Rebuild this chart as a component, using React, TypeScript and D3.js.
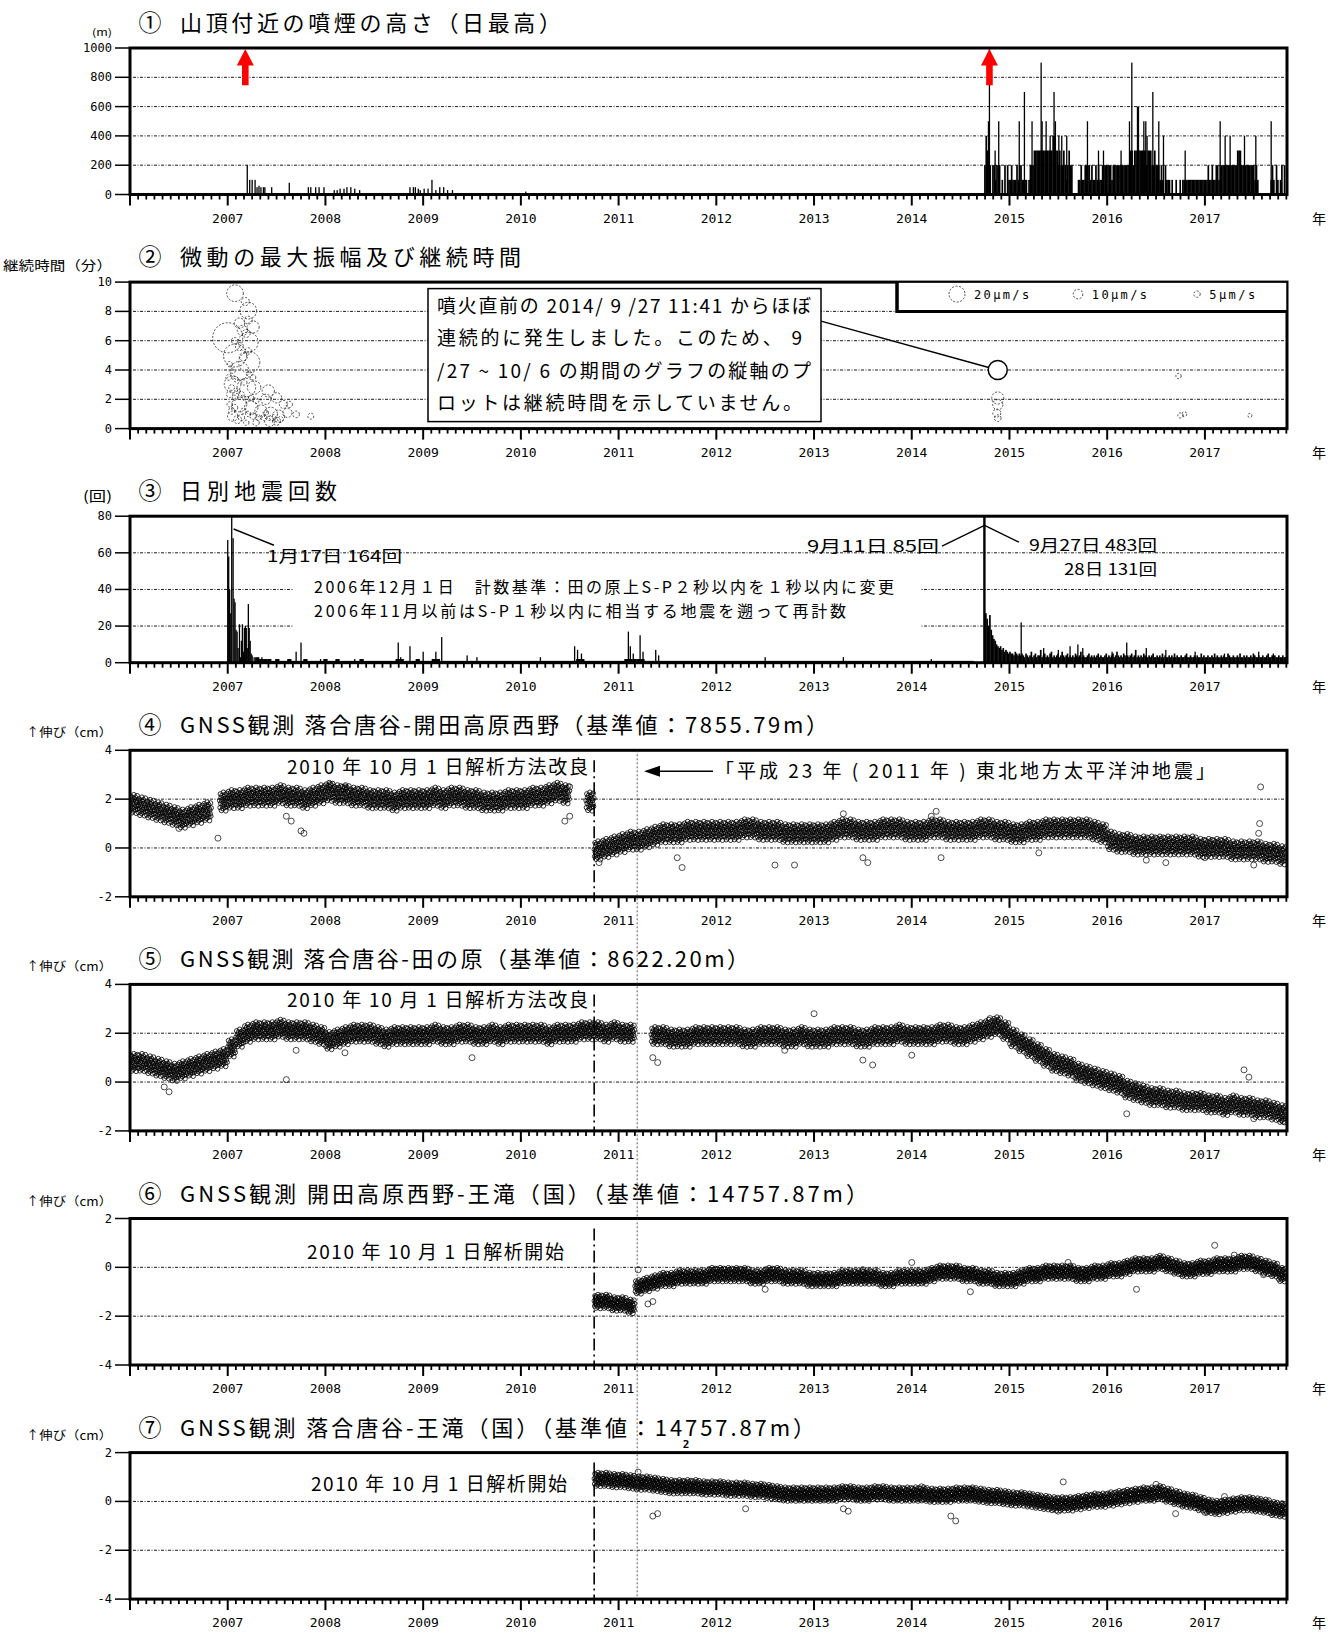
import React, { useRef, useEffect } from "react";
import * as d3 from "d3";

// ---- page layout ----
const WIDTH = 1342;
const HEIGHT = 1636;
const PLOT_LEFT = 130;
const PLOT_RIGHT = 1287;
const FIRST_TOP = 48;
const PANEL_STEP = 234.1;
const PANEL_HEIGHT = 146.5;
const FONT_JP = "'Noto Sans CJK JP', 'Noto Sans', sans-serif";
const FONT_NUM = "'DejaVu Sans Mono', 'Liberation Mono', monospace";
const DAY = 1 / 365.25;

// ---- shared time axis (decimal years) ----
const xStart = 2006;
const xEnd = 2017.84;
const yearLabels = [2007, 2008, 2009, 2010, 2011, 2012, 2013, 2014, 2015, 2016, 2017];
const analysisChange = 2010.75; // 2010-10-01
const tohokuQuake = 2011.19; // 2011-03-11

const panelTitles = [
  { mark: "①", text: "山頂付近の噴煙の高さ（日最高）", end: 561 },
  { mark: "②", text: "微動の最大振幅及び継続時間", end: 521 },
  { mark: "③", text: "日別地震回数", end: 337 },
  { mark: "④", text: "GNSS観測  落合唐谷-開田高原西野（基準値：7855.79m）", end: 828 },
  { mark: "⑤", text: "GNSS観測  落合唐谷-田の原（基準値：8622.20m）", end: 749 },
  { mark: "⑥", text: "GNSS観測  開田高原西野-王滝（国）（基準値：14757.87m）", end: 868 },
  { mark: "⑦", text: "GNSS観測  落合唐谷-王滝（国）（基準値：14757.87m）", end: 815 },
];

const panelAxes = [
  { domain: [0, 1000], ticks: [0, 200, 400, 600, 800, 1000], grid: [200, 400, 600, 800] },
  { domain: [0, 10], ticks: [0, 2, 4, 6, 8, 10], grid: [2, 4, 6, 8] },
  { domain: [0, 80], ticks: [0, 20, 40, 60, 80], grid: [20, 40, 60] },
  { domain: [-2, 4], ticks: [-2, 0, 2, 4], grid: [0, 2] },
  { domain: [-2, 4], ticks: [-2, 0, 2, 4], grid: [0, 2] },
  { domain: [-4, 2], ticks: [-4, -2, 0, 2], grid: [-2, 0] },
  { domain: [-4, 2], ticks: [-4, -2, 0, 2], grid: [-2, 0] },
];

const unitLabels = [
  { text: "(m)", x: 92, len: 20, dy: -12, size: 10 },
  { text: "継続時間（分）", x: 3, len: 109, dy: -12, size: 13 },
  { text: "(回)", x: 83, len: 29, dy: -15, size: 14 },
  { text: "↑伸び（cm）", x: 26, len: 86, dy: -13, size: 12 },
  { text: "↑伸び（cm）", x: 26, len: 86, dy: -13, size: 12 },
  { text: "↑伸び（cm）", x: 26, len: 86, dy: -13, size: 12 },
  { text: "↑伸び（cm）", x: 26, len: 86, dy: -13, size: 12 },
];

// ---- ① plume height (m) ----
const plumeEarly: [number, number][] = [
  [2007.2, 200], [2007.225, 100], [2007.25, 100], [2007.28, 100], [2007.3, 50], [2007.32, 60],
  [2007.34, 50], [2007.365, 50], [2007.38, 50], [2007.45, 50], [2007.63, 80],
  [2007.825, 50], [2007.85, 50], [2007.9, 50], [2007.935, 50], [2007.985, 50],
  [2008.09, 30], [2008.12, 30], [2008.15, 40], [2008.19, 40], [2008.22, 50], [2008.26, 50],
  [2008.3, 40], [2008.35, 30], [2008.865, 50], [2008.9, 50], [2008.92, 50], [2008.95, 40],
  [2008.97, 30], [2009.01, 40], [2009.05, 40], [2009.09, 100], [2009.13, 30], [2009.17, 50],
  [2009.21, 50], [2009.25, 30], [2009.3, 30], [2010.05, 20], [2011.0, 10], [2011.55, 10], [2013.7, 10],
];
const plumeStart = 2014.74;
const plumeStepDays = 5;
const plumeDense = [
  200, 400, 300, 200, 200, 0, 200, 200, 100, 200, 200, 200, 0, 100, 0, 200, 0, 200,
  100, 100, 200, 100, 100, 100, 200, 100, 200, 200, 100, 100, 100, 100, 0, 100, 200, 200, 200,
  300, 300, 300, 300, 300, 300, 300, 300, 300, 300, 300, 300, 300, 300, 400, 400, 300,
  300, 200, 300, 200, 200, 300, 200, 100, 200, 300, 200, 200, 0, 0, 0, 0,
  100, 100, 200, 100, 100, 200, 200, 200, 200,
  100, 200, 100, 100, 200, 100, 200, 100, 100, 200, 200, 200, 200, 200, 200, 200, 100,
  200, 200, 200, 200, 200, 200, 200, 200, 200, 200, 200, 200, 200,
  300, 300, 200, 300, 300, 200, 300, 300, 300, 300, 300, 300, 200, 300, 300, 300, 200,
  200, 300, 200, 200, 200, 100, 200, 100, 0, 200, 100, 100, 100, 0, 100, 0, 0, 100, 0, 0, 100, 0,
  100, 100, 100, 100, 100, 100, 100, 100, 100, 100, 100, 100, 100, 100, 100, 100, 100,
  100, 100, 200, 100, 100, 200, 100, 100, 200, 200, 100, 200, 200,
  200, 200, 200, 200, 200, 200, 200, 200, 200, 200, 200, 300, 300, 300, 200, 200, 200, 200, 200, 200, 200, 200, 200,
  200, 100, 200, 100, 0, 0, 0, 0, 0, 0, 0, 0, 0,
  100, 200, 100, 0, 200, 100, 0, 100, 200, 0, 200, 0,
];
const plumeSpikes: [number, number][] = [
  [2014.785, 500], [2014.795, 1000], [2014.853, 300], [2014.89, 500], [2015.1, 500], [2015.153, 700],
  [2015.231, 500], [2015.324, 900], [2015.334, 500], [2015.375, 500], [2015.416, 400], [2015.456, 700],
  [2015.47, 500], [2015.505, 400], [2015.535, 400], [2015.586, 400], [2015.798, 500], [2015.911, 300],
  [2015.962, 300], [2016.142, 300], [2016.228, 500], [2016.252, 900], [2016.31, 600], [2016.32, 600],
  [2016.375, 500], [2016.395, 500], [2016.408, 400], [2016.467, 700], [2016.528, 500], [2016.576, 400],
  [2016.798, 300], [2017.156, 500], [2017.207, 400], [2017.258, 400], [2017.405, 400], [2017.521, 400],
  [2017.678, 500],
];
const eruptionArrows = [2007.18, 2014.795];

// ---- ② tremor: [year, duration (min), max amplitude (µm/s)] ----
const tremorBubbles: [number, number, number][] = [
  [2007.075, 9.24, 21], [2007.21, 8.05, 21], [2007.18, 8.67, 7.5], [2007.0, 6.2, 42], [2007.075, 4.99, 31],
  [2007.21, 5.9, 26], [2007.22, 4.53, 28], [2007.12, 3.95, 24], [2007.26, 6.94, 14], [2007.15, 6.7, 11],
  [2007.05, 3.03, 21], [2007.19, 2.8, 24], [2007.27, 2.8, 16], [2007.415, 2.57, 14], [2007.5, 2.1, 11],
  [2007.57, 1.65, 7.5], [2007.12, 1.65, 18], [2007.24, 1.43, 16], [2007.34, 1.2, 14], [2007.44, 1.0, 16],
  [2007.52, 0.85, 14], [2007.61, 1.08, 9.5], [2007.7, 0.97, 5.4], [2007.85, 0.85, 4.4], [2007.05, 0.85, 11],
  [2007.1, 0.62, 7.5], [2007.43, 0.5, 11], [2007.5, 0.5, 7.5], [2007.02, 4.4, 3.3], [2007.05, 3.95, 3.3],
  [2007.01, 3.5, 4], [2007.08, 3.38, 3.3], [2007.04, 2.8, 4], [2007.1, 2.57, 3.3], [2007.02, 2.34, 5],
  [2007.075, 2.1, 3.3], [2007.14, 2.34, 4], [2007.17, 3.15, 3.3], [2007.22, 3.72, 4], [2007.26, 3.5, 3.3],
  [2007.19, 2.0, 4], [2007.24, 2.1, 3.3], [2007.29, 1.9, 4], [2007.02, 1.65, 3.3], [2007.07, 1.43, 5],
  [2007.16, 1.2, 4], [2007.21, 1.0, 3.3], [2007.26, 0.85, 5], [2007.31, 0.75, 4], [2007.37, 0.75, 5],
  [2007.39, 1.08, 3.3], [2007.46, 0.75, 5], [2007.54, 0.62, 4], [2007.14, 0.75, 5], [2007.19, 0.4, 3.3],
  [2007.29, 0.4, 5], [2007.16, 4.9, 7.5], [2007.21, 5.3, 5], [2007.12, 5.6, 7.5], [2007.07, 6.0, 5],
  [2007.19, 6.5, 7.5], [2007.12, 7.2, 11], [2007.21, 7.4, 7.5], [2007.39, 2.0, 11], [2007.63, 1.65, 5],
  [2007.04, 1.2, 5],
  [2014.88, 2.09, 14], [2014.88, 1.63, 11], [2014.87, 1.06, 7.5], [2014.88, 0.71, 5.4],
  [2016.73, 3.59, 3.3], [2016.75, 0.9, 3.3], [2016.79, 0.99, 2.5], [2017.46, 0.9, 1.5],
];
const tremorCallout: [number, number] = [2014.88, 4.0];
const tremorLegend = [20, 10, 5];
const tremorNote = [
  "噴火直前の 2014/ 9 /27 11:41 からほぼ",
  "連続的に発生しました。このため、 9",
  "/27 ~ 10/ 6 の期間のグラフの縦軸のプ",
  "ロットは継続時間を示していません。",
];

// ---- ③ daily earthquake counts ----
const quakeEvents: [number, number][] = [
  [2007.0, 67], [2007.01, 58], [2007.02, 40], [2007.031, 27], [2007.055, 68], [2007.065, 35],
  [2007.075, 33], [2007.085, 18], [2007.096, 17], [2007.106, 8], [2007.12, 21], [2007.13, 3],
  [2007.14, 12], [2007.15, 21], [2007.16, 6], [2007.17, 19], [2007.18, 20], [2007.19, 19],
  [2007.2, 8], [2007.211, 32], [2007.22, 19], [2007.23, 12], [2007.24, 5], [2007.25, 4], [2007.27, 3],
  [2007.35, 3], [2007.7, 6], [2007.75, 11], [2007.95, 2], [2008.3, 2], [2008.745, 11], [2008.77, 3],
  [2008.865, 9], [2009.0, 6], [2009.13, 6], [2009.19, 14], [2009.45, 4], [2009.55, 3], [2010.2, 3],
  [2010.55, 9], [2010.58, 7], [2010.62, 5], [2011.1, 17], [2011.12, 9], [2011.15, 5], [2011.22, 15],
  [2011.25, 6], [2011.38, 7], [2011.41, 4], [2012.5, 3], [2013.3, 3], [2014.2, 2],
  [2015.12, 22], [2015.35, 8], [2015.5, 7], [2015.62, 9], [2015.7, 10], [2015.75, 8], [2016.05, 6],
  [2016.2, 11], [2016.4, 8], [2016.6, 7], [2016.9, 6], [2017.2, 5], [2017.55, 6], [2017.7, 5],
];
const quakeOffScale: [number, number][] = [[2007.041, 164], [2014.738, 85], [2014.745, 483], [2014.748, 131]];
const quakeBgStart = 2007.28;
const quakeBgStepDays = 15;
const quakeBg = [
  3, 2, 2, 2, 1, 2, 1, 1, 2, 1, 1, 1, 2, 1, 1, 1, 1, 2,
  1, 1, 2, 1, 1, 1, 1, 1, 2, 1, 1, 1, 1, 1, 1, 1, 1, 2, 2, 1, 1, 1, 2, 1,
  1, 1, 2, 2, 1, 1, 1, 1, 1, 1, 1, 1, 1, 1, 1, 1, 1, 1, 1, 1, 1, 1, 1, 1,
  1, 1, 1, 1, 1, 1, 1, 1, 1, 1, 1, 1, 1, 1, 2, 2, 1, 1, 1, 1, 1, 1, 1, 1,
  1, 1, 2, 2, 2, 2, 2, 1, 1, 1, 1, 1, 1, 1, 1, 1, 1, 1, 1, 1, 1, 1, 1, 1,
  1, 1, 1, 1, 1, 1, 1, 1, 1, 1, 1, 1, 1, 1, 1, 1, 1, 1, 1, 1, 1, 1, 1, 1,
  1, 1, 1, 1, 1, 1, 1, 1, 1, 1, 1, 1, 1, 1, 1, 1, 1, 1, 1, 1, 1, 1, 1, 1,
  1, 1, 1, 1, 1, 1, 1, 1, 1, 1, 1, 1, 1, 1, 1, 1, 1,
];
const quakeDenseStart = 2014.75;
const quakeDenseStepDays = 5;
const quakeDense = [
  27, 24, 20, 26, 18, 15, 13, 12, 10, 9, 8, 9, 7, 8, 6, 7, 6, 5, 6, 5, 5, 4, 6, 5, 4, 5, 4, 5,
  4, 3, 5, 4, 3, 4, 6, 3, 4, 5, 3, 4, 4, 7, 3, 4, 5, 3, 4, 3, 5, 6, 3, 4, 3, 4, 5, 3, 4, 6, 4, 3, 4, 5,
  3, 4, 3, 4, 3, 5, 4, 3, 4, 6, 3, 4, 3, 3, 4, 5, 3, 4, 3, 4, 3, 4, 5, 3, 4, 3, 3, 4, 5, 3,
  4, 3, 4, 5, 3, 4, 6, 4, 3, 4, 3, 5, 4, 3, 4, 3, 4, 5, 3, 4, 7, 3, 4, 3, 4, 3, 5, 4, 3, 3, 4, 3, 4, 5,
  3, 3, 4, 3, 4, 3, 5, 3, 4, 3, 3, 4, 3, 4, 3, 5, 3, 4, 3, 3, 4, 3, 3, 4, 5, 3, 3, 4, 3, 3, 4, 3, 4, 3,
  3, 5, 3, 4, 3,
  3, 4, 3, 3, 4, 3, 5, 3, 4, 3, 3, 4, 3, 4, 3, 3, 5, 4, 3, 3, 4, 3, 3, 4, 3, 5, 3, 3, 4, 3, 4, 3, 3, 4,
  3, 5, 4, 3, 3, 4, 3, 3, 4, 3, 3, 4, 5, 3, 3, 4, 3, 4, 3, 3, 4, 3, 3, 4, 3, 3, 4,
];
const quakeNotes = [
  "2006年12月１日　計数基準：田の原上S-P２秒以内を１秒以内に変更",
  "2006年11月以前はS-P１秒以内に相当する地震を遡って再計数",
];

// ---- ④-⑦ GNSS baseline change (cm), monthly levels ----
const gnss4Start = 2006;
const gnss4 = [
  1.8, 1.7, 1.6, 1.5, 1.4, 1.3, 1.2, 1.3, 1.4, 1.5, null, 1.9,
  2.0, 2.0, 2.1, 2.1, 2.1, 2.1, 2.2, 2.1, 2.1, 2.0, 2.1, 2.2,
  2.3, 2.2, 2.2, 2.1, 2.1, 2.0, 2.0, 2.0, 1.9, 2.0, 2.0, 2.0,
  2.0, 2.1, 2.0, 2.1, 2.1, 2.0, 2.0, 1.9, 1.9, 1.9, 2.0, 2.0,
  2.0, 2.1, 2.1, 2.2, 2.3, 2.2, null, null, 1.9, -0.1, 0.0, 0.1,
  0.2, 0.3, 0.3, 0.4, 0.5, 0.6, 0.6, 0.6, 0.7, 0.7, 0.7, 0.7,
  0.7, 0.7, 0.7, 0.8, 0.8, 0.7, 0.7, 0.7, 0.6, 0.6, 0.6, 0.6,
  0.6, 0.6, 0.7, 0.8, 0.8, 0.7, 0.7, 0.7, 0.8, 0.8, 0.8, 0.7,
  0.7, 0.7, 0.8, 0.8, 0.7, 0.7, 0.7, 0.7, 0.8, 0.8, 0.7, 0.7,
  0.6, 0.6, 0.7, 0.7, 0.8, 0.8, 0.8, 0.8, 0.8, 0.8, 0.7, 0.6,
  0.3, 0.2, 0.2, 0.1, 0.1, 0.1, 0.1, 0.1, 0.1, 0.1, 0.1, 0.0,
  0.0, 0.0, 0.0, -0.1, -0.1, -0.1, -0.1, -0.2, -0.2, -0.3,
];
const gnss5Start = 2006;
const gnss5 = [
  0.8, 0.8, 0.7, 0.6, 0.5, 0.4, 0.5, 0.6, 0.7, 0.8, 0.9, 1.0,
  1.4, 1.8, 2.0, 2.1, 2.1, 2.1, 2.2, 2.1, 2.1, 2.1, 2.0, 1.9,
  1.7, 1.8, 1.9, 2.0, 2.0, 2.0, 1.9, 1.8, 1.9, 1.9, 1.9, 1.9,
  1.9, 2.0, 1.9, 1.9, 2.0, 2.0, 1.9, 1.9, 2.0, 1.9, 2.0, 2.0,
  2.0, 2.0, 2.0, 1.9, 2.0, 2.0, 2.0, 2.1, 2.1, 2.1, 2.0, 2.1,
  2.0, 2.0, null, null, 1.9, 1.9, 1.8, 1.8, 1.8, 1.9, 1.9, 1.9,
  1.9, 1.9, 1.9, 1.8, 1.8, 1.9, 1.9, 1.9, 1.8, 1.8, 1.9, 1.8,
  1.8, 1.8, 1.9, 1.9, 1.9, 1.8, 1.8, 1.9, 1.9, 1.9, 2.0, 1.9,
  1.9, 1.9, 1.9, 2.0, 2.0, 1.9, 1.9, 2.0, 2.1, 2.2, 2.3, 2.1,
  1.8, 1.6, 1.4, 1.2, 1.0, 0.8, 0.7, 0.6, 0.4, 0.3, 0.2, 0.1,
  0.0, -0.1, -0.3, -0.4, -0.5, -0.6, -0.6, -0.7, -0.7, -0.8, -0.8, -0.8,
  -0.9, -0.9, -1.0, -0.9, -1.0, -1.0, -1.1, -1.1, -1.2, -1.3,
];
const gnss6Start = 2010.75;
const gnss6 = [
  -1.4, -1.4, -1.5,
  -1.5, -1.6, -0.8, -0.7, -0.6, -0.5, -0.5, -0.4, -0.4, -0.4, -0.4, -0.3,
  -0.3, -0.3, -0.3, -0.3, -0.4, -0.4, -0.3, -0.3, -0.4, -0.4, -0.4, -0.5,
  -0.5, -0.5, -0.5, -0.4, -0.4, -0.4, -0.4, -0.4, -0.5, -0.5, -0.4, -0.4,
  -0.4, -0.4, -0.3, -0.2, -0.2, -0.2, -0.3, -0.3, -0.4, -0.4, -0.5, -0.5,
  -0.5, -0.4, -0.3, -0.3, -0.2, -0.2, -0.2, -0.2, -0.3, -0.3, -0.2, -0.2,
  -0.1, -0.1, 0.0, 0.1, 0.1, 0.1, 0.2, 0.1, 0.0, -0.1, -0.1, 0.0,
  0.0, 0.1, 0.1, 0.1, 0.2, 0.2, 0.1, 0.0, -0.1, -0.3,
];
const gnss7Start = 2010.75;
const gnss7 = [
  0.9, 0.9, 0.85,
  0.85, 0.8, 0.75, 0.75, 0.7, 0.65, 0.6, 0.6, 0.6, 0.6, 0.55, 0.55,
  0.55, 0.5, 0.5, 0.5, 0.45, 0.45, 0.4, 0.35, 0.3, 0.3, 0.3, 0.3,
  0.3, 0.3, 0.3, 0.35, 0.35, 0.3, 0.3, 0.35, 0.35, 0.3, 0.3, 0.3,
  0.3, 0.3, 0.25, 0.25, 0.25, 0.3, 0.3, 0.3, 0.25, 0.2, 0.2, 0.15,
  0.1, 0.1, 0.05, 0.0, -0.05, -0.1, -0.1, -0.1, -0.05, 0.0, 0.05, 0.05,
  0.1, 0.15, 0.2, 0.25, 0.3, 0.3, 0.35, 0.25, 0.15, 0.05, 0.0, -0.1,
  -0.2, -0.25, -0.2, -0.15, -0.1, -0.1, -0.15, -0.2, -0.3, -0.35,
];
const gnss4Outliers: [number, number][] = [
  [2006.5, 0.8], [2006.9, 0.4], [2007.6, 1.3], [2007.65, 1.1], [2007.75, 0.7], [2007.78, 0.6],
  [2008.05, 2.6], [2008.2, 2.5], [2010.45, 1.1], [2010.5, 1.3], [2010.5, 2.5], [2010.8, -0.6],
  [2011.6, -0.4], [2011.65, -0.8], [2012.6, -0.7], [2012.8, -0.7], [2013.3, 1.4], [2013.5, -0.4],
  [2013.55, -0.6], [2014.2, 1.3], [2014.25, 1.5], [2014.3, -0.4], [2015.3, -0.2], [2016.4, -0.5],
  [2016.6, -0.6], [2017.0, -0.4], [2017.5, -0.7], [2017.55, 0.6], [2017.56, 1.0], [2017.57, 2.5],
];
const gnss5Outliers: [number, number][] = [
  [2006.35, -0.2], [2006.4, -0.4], [2007.6, 0.1], [2007.7, 1.3], [2008.2, 1.2], [2009.5, 1.0],
  [2011.35, 1.0], [2011.4, 0.8], [2012.7, 1.3], [2013.0, 2.8], [2013.5, 0.9], [2013.6, 0.7],
  [2014.0, 1.1], [2014.8, 2.6], [2016.2, -1.3], [2017.4, 0.5], [2017.45, 0.2], [2017.5, -1.5],
  [2017.8, -1.6],
];
const gnss6Outliers: [number, number][] = [
  [2011.2, -0.1], [2011.3, -1.5], [2011.35, -1.4], [2012.5, -0.9], [2013.5, -0.1], [2014.0, 0.2],
  [2014.6, -1.0], [2015.6, 0.2], [2016.3, -0.9], [2016.6, 0.3], [2017.1, 0.9], [2017.3, 0.5],
  [2017.6, -0.3],
];
const gnss7Outliers: [number, number][] = [
  [2011.2, 1.2], [2011.35, -0.6], [2011.4, -0.5], [2012.3, -0.3], [2013.3, -0.3], [2013.35, -0.4],
  [2014.1, 0.6], [2014.4, -0.6], [2014.45, -0.8], [2014.6, 0.5], [2015.5, -0.4], [2015.55, 0.8],
  [2016.5, 0.7], [2016.7, -0.5], [2017.0, -0.45], [2017.2, 0.2], [2017.5, -0.3],
];
// daily scatter within a month: [day of month, offset as a fraction of the band half-width]
const dailyScatter: [number, number][] = [
  [0.6, 0.1], [1.9, -0.62], [3.1, 0.78], [4.4, -0.2], [5.6, 0.41], [6.9, -0.9], [8.1, 0.05], [9.4, 0.63],
  [10.6, -0.45], [11.9, 0.22], [13.1, -0.72], [14.4, 0.95], [15.6, -0.08], [16.9, 0.5], [18.1, -0.33],
  [19.4, 0.7], [20.6, -0.58], [21.9, 0.3], [23.1, -0.95], [24.4, 0.12], [25.6, -0.25], [26.9, 0.85],
  [28.1, -0.5], [29.4, 0.35],
];
const gnssSpread = [0.4, 0.38, 0.3, 0.3];
const gnssNotes = [
  { text: "2010 年 10 月 1 日解析方法改良", x: 287, end: 588, dy: 24 },
  { text: "2010 年 10 月 1 日解析方法改良", x: 287, end: 588, dy: 23 },
  { text: "2010 年 10 月 1 日解析開始", x: 307, end: 564, dy: 40 },
  { text: "2010 年 10 月 1 日解析開始", x: 311, end: 567, dy: 38 },
];

const txt = (g: any, x: number, y: number, s: string, size: number, o: any = {}) => {
  const t = g
    .append("text")
    .attr("x", x)
    .attr("y", y)
    .attr("font-size", size)
    .attr("font-family", o.font ?? FONT_JP)
    .attr("text-anchor", o.anchor ?? "start")
    .attr("fill", "#000")
    .text(s);
  if (o.weight) t.attr("font-weight", o.weight);
  if (o.len) t.attr("textLength", o.len).attr("lengthAdjust", o.adjust ?? "spacing");
  return t;
};

export default function App() {
  const svgRef = useRef<SVGSVGElement>(null);

  useEffect(() => {
    if (!svgRef.current) return;
    document.body.style.margin = "0";
    const svg = d3.select(svgRef.current);
    svg.selectAll("*").remove();
    svg.append("rect").attr("width", WIDTH).attr("height", HEIGHT).attr("fill", "#fff");
    const defs = svg.append("defs");

    const x = d3.scaleLinear().domain([xStart, xEnd]).range([PLOT_LEFT, PLOT_RIGHT]);
    const stepPx = (days: number) => x(xStart + days * DAY) - x(xStart);

    const panels = panelAxes.map((spec, i) => {
      const top = FIRST_TOP + i * PANEL_STEP;
      const bottom = top + PANEL_HEIGHT;
      const y = d3.scaleLinear().domain(spec.domain).range([bottom, top]);
      defs
        .append("clipPath")
        .attr("id", `clip-${i}`)
        .append("rect")
        .attr("x", PLOT_LEFT)
        .attr("y", top)
        .attr("width", PLOT_RIGHT - PLOT_LEFT)
        .attr("height", PANEL_HEIGHT);

      const g = svg.append("g");
      const grid = g.append("g");
      const plot = g.append("g").attr("clip-path", `url(#clip-${i})`);
      const frame = g.append("g");
      const notes = g.append("g");

      // dotted grid
      spec.grid.forEach((v) => {
        grid
          .append("line")
          .attr("x1", PLOT_LEFT + 3)
          .attr("x2", PLOT_RIGHT - 2)
          .attr("y1", y(v))
          .attr("y2", y(v))
          .attr("stroke", "#000")
          .attr("stroke-width", 0.9)
          .attr("stroke-dasharray", "3,1.5,1,1.5");
      });

      // frame
      frame
        .append("rect")
        .attr("x", PLOT_LEFT)
        .attr("y", top)
        .attr("width", PLOT_RIGHT - PLOT_LEFT)
        .attr("height", PANEL_HEIGHT)
        .attr("fill", "none")
        .attr("stroke", "#000")
        .attr("stroke-width", 3);

      // y axis
      spec.ticks.forEach((v) => {
        frame
          .append("line")
          .attr("x1", PLOT_LEFT - 15)
          .attr("x2", PLOT_LEFT)
          .attr("y1", y(v))
          .attr("y2", y(v))
          .attr("stroke", "#000")
          .attr("stroke-width", 1.5);
        txt(frame, PLOT_LEFT - 18, y(v) + 4, String(v), 12, { font: FONT_NUM, anchor: "end" });
      });

      // x axis: monthly minor ticks, yearly major ticks
      d3.range(0, 143).forEach((m) => {
        const t = xStart + m / 12;
        if (t > xEnd + 1e-6) return;
        const major = m % 12 === 0;
        frame
          .append("line")
          .attr("x1", x(t))
          .attr("x2", x(t))
          .attr("y1", bottom)
          .attr("y2", bottom + (major ? 11 : 5))
          .attr("stroke", "#000")
          .attr("stroke-width", major ? 2 : 1.8);
      });
      yearLabels.forEach((yr) => {
        txt(frame, x(yr), bottom + 28, String(yr), 13, { font: FONT_NUM, anchor: "middle" });
      });
      txt(frame, 1319, bottom + 29, "年", 14, { anchor: "middle" });

      // title and unit
      const title = panelTitles[i];
      txt(frame, 150, top - 17, title.mark, 23, { anchor: "middle" });
      txt(frame, 180, top - 17, title.text, 22, { len: title.end - 180 });
      const u = unitLabels[i];
      txt(frame, u.x, top + u.dy, u.text, u.size, { len: u.len, adjust: "spacingAndGlyphs" });

      return { top, bottom, y, plot, notes };
    });

    // ---------- ① plume ----------
    {
      const { y, plot, notes } = panels[0];
      const barW = stepPx(plumeStepDays) + 0.35;
      plot
        .selectAll(null)
        .data(plumeDense.map((v, i) => [plumeStart + i * plumeStepDays * DAY, v]).filter((d) => d[1] > 0))
        .enter()
        .append("rect")
        .attr("x", (d: any) => x(d[0]))
        .attr("width", barW)
        .attr("y", (d: any) => y(d[1]))
        .attr("height", (d: any) => y(0) - y(d[1]))
        .attr("fill", "#000");
      plot
        .selectAll(null)
        .data([...plumeEarly, ...plumeSpikes])
        .enter()
        .append("rect")
        .attr("x", (d: any) => x(d[0]) - 0.65)
        .attr("width", 1.3)
        .attr("y", (d: any) => y(d[1]))
        .attr("height", (d: any) => y(0) - y(d[1]))
        .attr("fill", "#000");
      eruptionArrows.forEach((t) => {
        const cx = x(t);
        notes
          .append("path")
          .attr(
            "d",
            `M${cx},${y(1000) + 1} L${cx - 8.5},${y(880)} L${cx - 3.3},${y(880)} L${cx - 3.3},${y(745)} ` +
              `L${cx + 3.3},${y(745)} L${cx + 3.3},${y(880)} L${cx + 8.5},${y(880)} Z`
          )
          .attr("fill", "#ff0000");
      });
    }

    // ---------- ② tremor ----------
    {
      const { top, y, plot, notes } = panels[1];
      const r = d3.scaleLinear().domain([0, 20]).range([1.6, 8]);
      plot
        .selectAll(null)
        .data(tremorBubbles)
        .enter()
        .append("circle")
        .attr("cx", (d: any) => x(d[0]))
        .attr("cy", (d: any) => y(d[1]))
        .attr("r", (d: any) => r(d[2]))
        .attr("fill", "none")
        .attr("stroke", "#222")
        .attr("stroke-width", 0.8)
        .attr("stroke-dasharray", "2,1.6");

      // callout
      const cx = x(tremorCallout[0]);
      const cy = y(tremorCallout[1]);
      notes
        .append("line")
        .attr("x1", 821)
        .attr("y1", top + 39)
        .attr("x2", cx)
        .attr("y2", cy)
        .attr("stroke", "#000")
        .attr("stroke-width", 1.5);
      notes
        .append("circle")
        .attr("cx", cx)
        .attr("cy", cy)
        .attr("r", 9.5)
        .attr("fill", "#fff")
        .attr("stroke", "#000")
        .attr("stroke-width", 1.5);
      notes
        .append("rect")
        .attr("x", 428)
        .attr("y", top + 6.5)
        .attr("width", 393)
        .attr("height", 133)
        .attr("fill", "#fff")
        .attr("stroke", "#000")
        .attr("stroke-width", 1.5);
      const lens = [374, 365, 374, 365];
      tremorNote.forEach((line, k) => {
        txt(notes, 437, top + 31 + k * 32.3, line, 19, { len: lens[k] });
      });

      // legend
      const lx = 897;
      notes
        .append("rect")
        .attr("x", lx)
        .attr("y", top)
        .attr("width", PLOT_RIGHT - lx)
        .attr("height", y(8) - top)
        .attr("fill", "#fff")
        .attr("stroke", "#000")
        .attr("stroke-width", 1.5);
      notes.append("line").attr("x1", lx).attr("x2", lx).attr("y1", top).attr("y2", y(8) + 1.5)
        .attr("stroke", "#000").attr("stroke-width", 3.5);
      notes.append("line").attr("x1", lx).attr("x2", PLOT_RIGHT).attr("y1", y(8)).attr("y2", y(8))
        .attr("stroke", "#000").attr("stroke-width", 3);
      const legendX = [957, 1078, 1197];
      tremorLegend.forEach((a, k) => {
        notes
          .append("circle")
          .attr("cx", legendX[k])
          .attr("cy", top + 12)
          .attr("r", r(a))
          .attr("fill", "none")
          .attr("stroke", "#222")
          .attr("stroke-width", 0.8)
          .attr("stroke-dasharray", "2,1.6");
        const label = `${a}μm/s`;
        txt(notes, legendX[k] + r(a) + 9, top + 16.5, label, 12, {
          font: FONT_NUM,
          len: label.length * 9.2,
          adjust: "spacing",
        });
      });
    }

    // ---------- ③ earthquakes ----------
    {
      const { top, y, plot, notes } = panels[2];
      const bgW = stepPx(quakeBgStepDays) + 0.3;
      const dW = stepPx(quakeDenseStepDays) + 0.35;
      const bars = (data: number[][], w: number, centered: boolean) =>
        plot
          .selectAll(null)
          .data(data.filter((d) => d[1] > 0))
          .enter()
          .append("rect")
          .attr("x", (d: any) => x(d[0]) - (centered ? w / 2 : 0))
          .attr("width", w)
          .attr("y", (d: any) => y(d[1]))
          .attr("height", (d: any) => y(0) - y(d[1]))
          .attr("fill", "#000");
      bars(quakeBg.map((v, i) => [quakeBgStart + i * quakeBgStepDays * DAY, v]), bgW, false);
      bars(quakeDense.map((v, i) => [quakeDenseStart + i * quakeDenseStepDays * DAY, v]), dW, false);
      bars(quakeEvents, 1.3, true);
      bars(quakeOffScale, 1.3, true);

      // notes with white background
      notes.append("rect").attr("x", 293).attr("y", top + 59).attr("width", 627).attr("height", 53).attr("fill", "#fff");
      txt(notes, 314, top + 77, quakeNotes[0], 16, { len: 580 });
      txt(notes, 314, top + 101, quakeNotes[1], 16, { len: 532 });

      // 164 on Jan 17
      notes.append("line").attr("x1", x(2007.06)).attr("y1", y(73)).attr("x2", 274).attr("y2", top + 29)
        .attr("stroke", "#000").attr("stroke-width", 1.5);
      txt(notes, 267, top + 46, "1月17日 164回", 16, { len: 135, adjust: "spacingAndGlyphs" });

      // 2014 eruption counts
      const px = x(quakeOffScale[2][0]);
      const py = y(75);
      notes.append("line").attr("x1", 942).attr("y1", top + 30).attr("x2", px).attr("y2", py)
        .attr("stroke", "#000").attr("stroke-width", 1.3);
      notes.append("line").attr("x1", px).attr("y1", py).attr("x2", 1019).attr("y2", top + 26)
        .attr("stroke", "#000").attr("stroke-width", 1.3);
      txt(notes, 807, top + 36, "9月11日 85回", 16, { len: 132, adjust: "spacingAndGlyphs" });
      txt(notes, 1029, top + 35, "9月27日 483回", 16, { len: 128, adjust: "spacingAndGlyphs" });
      txt(notes, 1064, top + 59, "28日 131回", 16, { len: 93, adjust: "spacingAndGlyphs" });
    }

    // ---------- ④-⑦ GNSS ----------
    const gnssSeries = [
      { start: gnss4Start, values: gnss4, outliers: gnss4Outliers },
      { start: gnss5Start, values: gnss5, outliers: gnss5Outliers },
      { start: gnss6Start, values: gnss6, outliers: gnss6Outliers },
      { start: gnss7Start, values: gnss7, outliers: gnss7Outliers },
    ];
    gnssSeries.forEach((s, k) => {
      const { top, bottom, y, plot, notes } = panels[3 + k];
      const spread = gnssSpread[k];
      const pts = s.values.flatMap((v: any, m: number) =>
        v == null ? [] : dailyScatter.map(([d, f]) => [s.start + m / 12 + d * DAY, v + f * spread])
      );
      plot
        .selectAll(null)
        .data(pts)
        .enter()
        .append("circle")
        .attr("cx", (d: any) => x(d[0]))
        .attr("cy", (d: any) => y(d[1]))
        .attr("r", 2.3)
        .attr("fill", "none")
        .attr("stroke", "#000")
        .attr("stroke-width", 0.8);
      plot
        .selectAll(null)
        .data(s.outliers)
        .enter()
        .append("circle")
        .attr("cx", (d: any) => x(d[0]))
        .attr("cy", (d: any) => y(d[1]))
        .attr("r", 3)
        .attr("fill", "none")
        .attr("stroke", "#000")
        .attr("stroke-width", 0.7);

      notes
        .append("line")
        .attr("x1", x(analysisChange))
        .attr("x2", x(analysisChange))
        .attr("y1", top + 10)
        .attr("y2", bottom)
        .attr("stroke", "#000")
        .attr("stroke-width", 1.6)
        .attr("stroke-dasharray", "12,4,2,4");

      const n = gnssNotes[k];
      txt(notes, n.x, top + n.dy, n.text, 19, { len: n.end - n.x });

      if (k === 0) {
        notes.append("line").attr("x1", 655).attr("x2", 713).attr("y1", top + 21).attr("y2", top + 21)
          .attr("stroke", "#000").attr("stroke-width", 1.6);
        notes.append("path").attr("d", `M644,${top + 21} L660,${top + 15.5} L660,${top + 26.5} Z`).attr("fill", "#000");
        txt(notes, 715, top + 28, "「平成 23 年 ( 2011 年 ) 東北地方太平洋沖地震」", 19, { len: 500 });
      }
      if (k === 3) {
        txt(notes, 686, top - 5, "2", 11, { font: FONT_NUM, anchor: "middle", weight: "bold" });
      }
    });

    // 2011-03-11 reference line through the GNSS panels
    svg
      .append("line")
      .attr("x1", x(tohokuQuake))
      .attr("x2", x(tohokuQuake))
      .attr("y1", panels[3].top)
      .attr("y2", panels[6].bottom)
      .attr("stroke", "#333")
      .attr("stroke-width", 0.8)
      .attr("stroke-dasharray", "2,2");
  }, []);

  return <svg ref={svgRef} width={WIDTH} height={HEIGHT} style={{ display: "block" }} />;
}
